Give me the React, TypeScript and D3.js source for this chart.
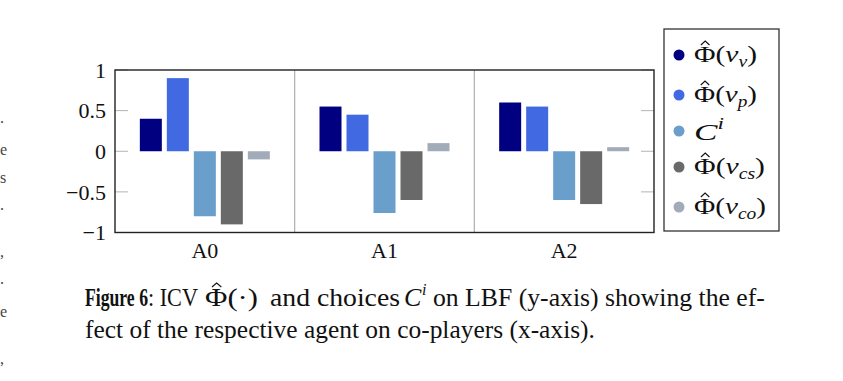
import React, { useLayoutEffect, useRef, useState } from "react";
import * as d3 from "d3";

const categories = ["A0", "A1", "A2"];
const seriesKeys = ["v", "p", "C", "cs", "co"];
const seriesColors = ["#000080", "#4169E1", "#6A9FCB", "#696969", "#A2ABB8"];
const valuesV = [0.4, 0.55, 0.6];
const valuesP = [0.9, 0.45, 0.55];
const valuesC = [-0.8, -0.76, -0.6];
const valuesCS = [-0.9, -0.6, -0.65];
const valuesCO = [-0.1, 0.1, 0.05];
const yTicks = [-1, -0.5, 0, 0.5, 1];
const yTickLabels = ["\u22121", "\u22120.5", "0", "0.5", "1"];
const legendSubs = ["v", "p", "", "cs", "co"];
const marginGlyphs = [".", "e", "s", ".", ",", ".", "e", ","];
const marginGlyphY = [123, 155, 183, 210, 257, 284, 317, 364];

const allValues = [valuesV, valuesP, valuesC, valuesCS, valuesCO];

const W = 843;
const H = 381;
const plot = { left: 115, right: 654, top: 70, bottom: 232.5 };
const serif = "'Liberation Serif', 'Times New Roman', serif";

function Hat({ cx, y, w = 7, h = 4 }: { cx: number; y: number; w?: number; h?: number }) {
  return (
    <path
      d={`M${cx - w / 2},${y + h} L${cx},${y} L${cx + w / 2},${y + h}`}
      fill="none"
      stroke="#111"
      strokeWidth={1.1}
      vectorEffect="non-scaling-stroke"
    />
  );
}

function FitText({
  x,
  y,
  width,
  fontSize,
  children,
  extra,
  fontWeight,
  fontStyle,
}: {
  x: number;
  y: number;
  width: number;
  fontSize: number;
  children: React.ReactNode;
  extra?: React.ReactNode;
  fontWeight?: string;
  fontStyle?: string;
}) {
  const ref = useRef<SVGTextElement>(null);
  const [s, setS] = useState(1);
  useLayoutEffect(() => {
    if (ref.current) {
      const w = ref.current.getComputedTextLength();
      if (w > 0) setS(width / w);
    }
  }, [width]);
  return (
    <g transform={`translate(${x},${y}) scale(${s},1)`}>
      <text
        ref={ref}
        x={0}
        y={0}
        fontSize={fontSize}
        fill="#111"
        fontWeight={fontWeight}
        fontStyle={fontStyle}
      >
        {children}
      </text>
      {extra}
    </g>
  );
}

export default function App() {
  const x = d3.scaleBand().domain(categories).range([plot.left, plot.right]).padding(0);
  const groupW = 130;
  const xi = d3
    .scaleBand()
    .domain(seriesKeys)
    .range([0, groupW])
    .paddingInner(0.185)
    .paddingOuter(0);
  const y = d3.scaleLinear().domain([-1, 1]).range([plot.bottom, plot.top]);

  const legendY = [55, 95, 131, 167, 207];
  const legendW = [63, 63, 30, 71, 72];
  const lx = 694;
  const lfs = 24;

  return (
    <svg
      width={W}
      height={H}
      style={{ position: "absolute", left: 0, top: 0, background: "#fff" }}
      fontFamily={serif}
    >
      <rect x={0} y={0} width={W} height={H} fill="#fff" />
      {marginGlyphs.map((g, i) => (
        <text key={i} x={0} y={marginGlyphY[i]} fontSize={16} fill="#444">
          {g}
        </text>
      ))}

      {categories.slice(1).map((c) => (
        <line
          key={c}
          x1={x(c)!}
          x2={x(c)!}
          y1={plot.top}
          y2={plot.bottom}
          stroke="#A9AFB3"
          strokeWidth={1.2}
        />
      ))}

      {yTicks.map((t) => (
        <g key={t}>
          <line x1={plot.left} x2={plot.left + 13} y1={y(t)} y2={y(t)} stroke="#B0B4B8" strokeWidth={1} />
          <line x1={plot.right - 13} x2={plot.right} y1={y(t)} y2={y(t)} stroke="#B0B4B8" strokeWidth={1} />
        </g>
      ))}

      {categories.map((c, ci) => {
        const gx = x(c)! + (x.bandwidth() - groupW) / 2;
        return seriesKeys.map((k, si) => {
          const v = allValues[si][ci];
          return (
            <rect
              key={c + k}
              x={gx + xi(k)!}
              width={xi.bandwidth()}
              y={Math.min(y(v), y(0))}
              height={Math.abs(y(v) - y(0))}
              fill={seriesColors[si]}
            />
          );
        });
      })}

      <rect
        x={plot.left}
        y={plot.top}
        width={plot.right - plot.left}
        height={plot.bottom - plot.top}
        fill="none"
        stroke="#222"
        strokeWidth={1.4}
      />

      {yTicks.map((t, i) => (
        <text key={t} x={plot.left - 9} y={y(t)} dy="0.35em" textAnchor="end" fontSize={22} fill="#111">
          {yTickLabels[i]}
        </text>
      ))}

      {categories.map((c) => (
        <text key={c} x={x(c)! + x.bandwidth() / 2} y={258} textAnchor="middle" fontSize={22} fill="#111">
          {c}
        </text>
      ))}

      {/* legend */}
      <rect x={664} y={29} width={115} height={202} fill="#fff" stroke="#333" strokeWidth={1.3} />
      {seriesKeys.map((k, i) => {
        const cy = legendY[i];
        const base = cy + 7;
        if (k === "C") {
          return (
            <g key={k}>
              <circle cx={679} cy={cy} r={5.5} fill={seriesColors[i]} />
              <FitText x={lx} y={base + 2} width={legendW[i]} fontSize={24} fontStyle="italic">
                C
                <tspan fontSize="16" dy="-11">i</tspan>
              </FitText>
            </g>
          );
        }
        return (
          <g key={k}>
            <circle cx={679} cy={cy} r={5.5} fill={seriesColors[i]} />
            <FitText
              x={lx}
              y={base}
              width={legendW[i]}
              fontSize={lfs}
              extra={<Hat cx={lfs * 0.38} y={-21} w={7} h={4} />}
            >
              Φ(
              <tspan fontStyle="italic">ν</tspan>
              <tspan fontStyle="italic" fontSize="16" dy="5">{legendSubs[i]}</tspan>
              <tspan dy="-5">)</tspan>
            </FitText>
          </g>
        );
      })}

      {/* caption line 1 */}
      <FitText x={85} y={306} width={63} fontSize={26} fontWeight="bold">
        Figure 6
      </FitText>
      <FitText x={148} y={306} width={50} fontSize={26}>
        : ICV
      </FitText>
      <FitText x={205} y={306} width={53} fontSize={26} extra={<Hat cx={26 * 0.38} y={-23} w={8} h={4} />}>
        Φ(·)
      </FitText>
      <FitText x={270} y={306} width={130} fontSize={26}>
        and choices
      </FitText>
      <text x={404} y={306} fontSize={26} fill="#111" fontStyle="italic">
        C
      </text>
      <text x={422} y={295} fontSize={16} fill="#111" fontStyle="italic">
        i
      </text>
      <FitText x={433} y={306} width={332} fontSize={26}>
        on LBF (y-axis) showing the ef-
      </FitText>
      {/* caption line 2 */}
      <FitText x={85} y={338} width={510} fontSize={26}>
        fect of the respective agent on co-players (x-axis).
      </FitText>
    </svg>
  );
}
